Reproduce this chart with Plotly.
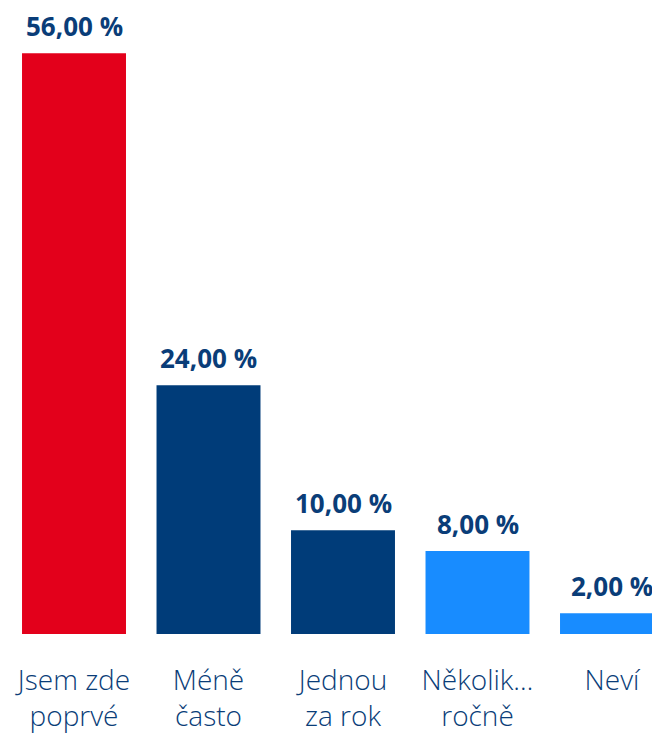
import plotly.graph_objects as go

categories = ["Jsem zde poprvé", "Méně často", "Jednou za rok", "Několik ročně", "Neví"]
tick_labels = ["Jsem zde<br>poprvé", "Méně<br>často", "Jednou<br>za rok", "Několik…<br>ročně", "Neví"]
values = [56.0, 24.0, 10.0, 8.0, 2.0]
groups = ["first", "dark", "dark", "light", "light"]

RED = "#E3001B"
DARK = "#003C79"
LIGHT = "#188CFF"
TEXT = "#0A3D78"
color_map = {"first": RED, "dark": DARK, "light": LIGHT}

x = list(range(len(categories)))

fig = go.Figure()
fig.add_trace(go.Bar(
    x=x,
    y=values,
    marker=dict(color=[color_map[g] for g in groups], line=dict(width=0)),
    hoverinfo="skip",
))

for xi, v in zip(x, values):
    fig.add_annotation(
        x=xi, y=v, xref="x", yref="y",
        text="<b>" + f"{v:.2f}".replace(".", ",") + " %</b>",
        showarrow=False, yanchor="middle", yshift=27,
        font=dict(family="Open Sans", size=26, color=TEXT),
    )

fig.update_layout(
    width=652, height=736,
    margin=dict(l=0, r=0, t=0, b=102),
    paper_bgcolor="white", plot_bgcolor="white",
    bargap=0.227,
    showlegend=False,
    xaxis=dict(
        range=[-0.5502, 4.2974],
        tickmode="array", tickvals=x, ticktext=tick_labels,
        showgrid=False, showline=False, zeroline=False, ticks="",
        tickfont=dict(family="Open Sans", size=28, color=TEXT, weight=350),
        ticklabelstandoff=27,
        fixedrange=True,
    ),
    yaxis=dict(range=[0, 61.14], visible=False, fixedrange=True),
)

fig.write_html("out.html", config={"displayModeBar": False})
